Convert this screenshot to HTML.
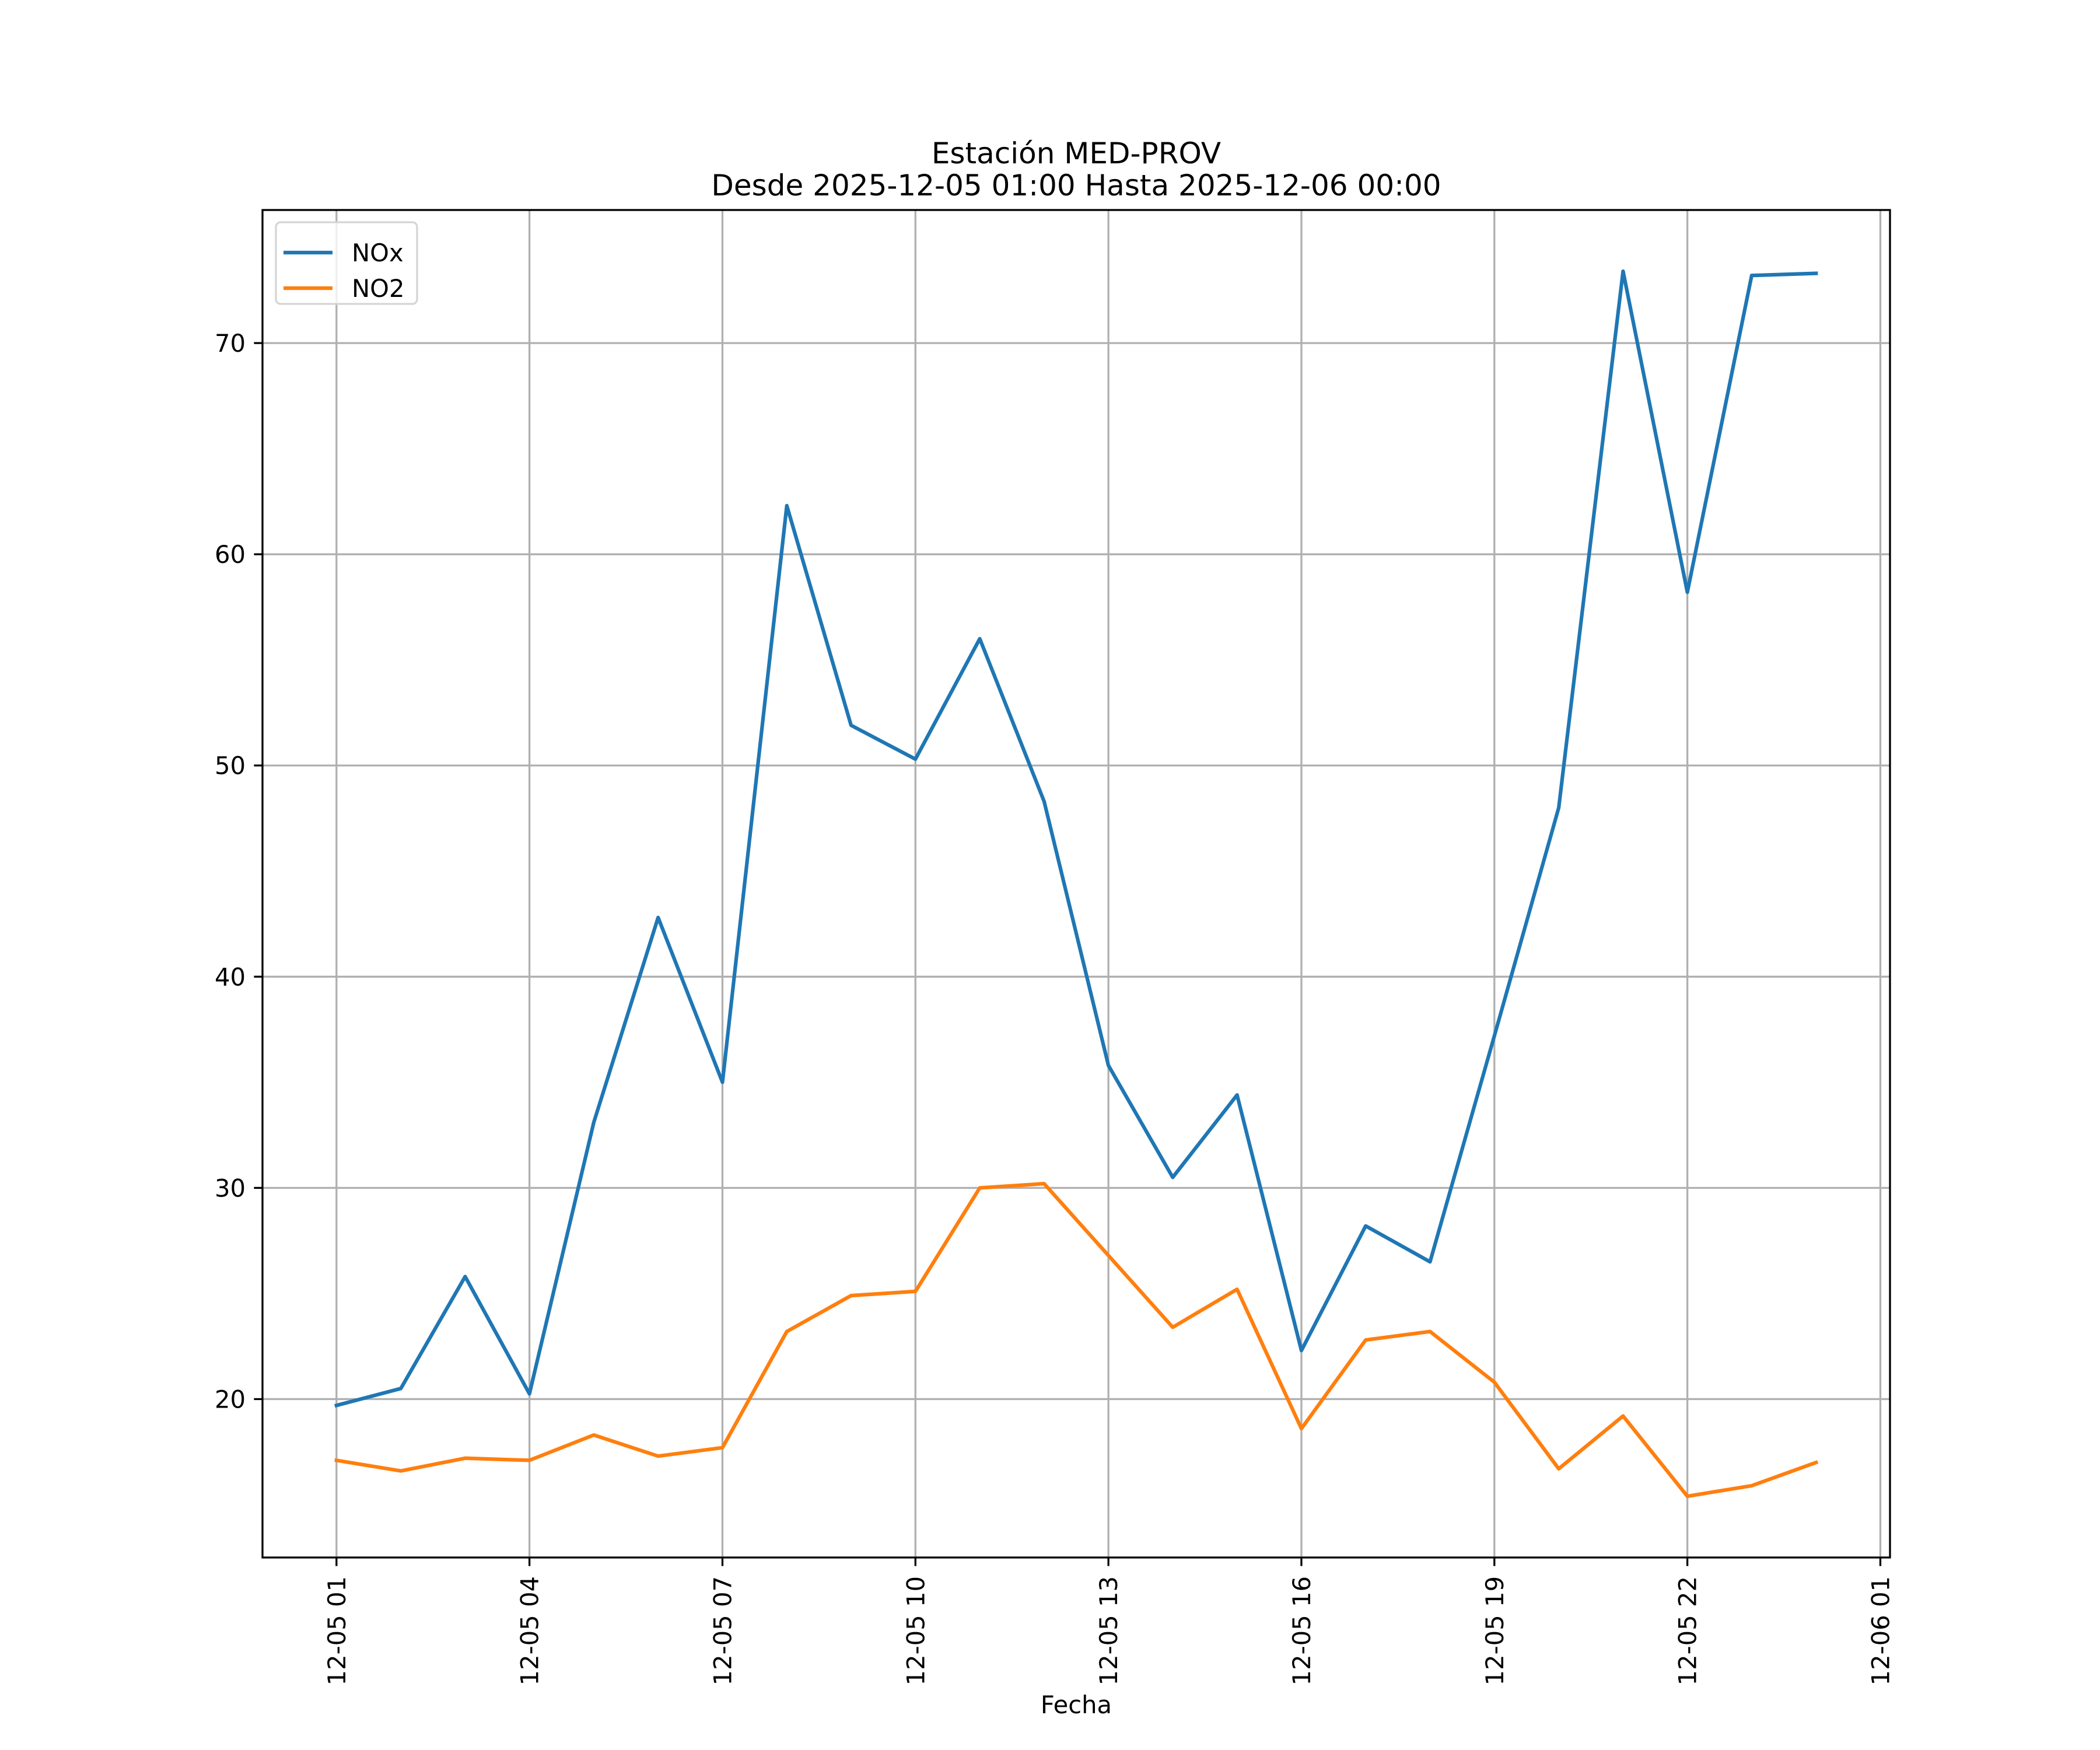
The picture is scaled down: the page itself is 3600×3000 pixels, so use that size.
<!DOCTYPE html>
<html><head><meta charset="utf-8"><style>
html,body{margin:0;padding:0;background:#fff;}
svg{display:block;font-family:"DejaVu Sans","Liberation Sans",sans-serif;}
</style></head><body>
<svg id="chart" width="3600" height="3000" viewBox="0 0 3600 3000" xmlns="http://www.w3.org/2000/svg">
<rect width="3600" height="3000" fill="#fff"/>
<text x="1845" y="280" font-size="50" text-anchor="middle">Estación MED-PROV</text>
<text x="1845" y="335" font-size="50" text-anchor="middle">Desde 2025-12-05 01:00 Hasta 2025-12-06 00:00</text>
<g id="grid"></g>
<g id="series"></g>
<rect x="450" y="360" width="2790" height="2310" fill="none" stroke="#000" stroke-width="3.3"/>
<g id="axes"></g>
<text x="1845" y="2937" font-size="41.7" text-anchor="middle">Fecha</text>
<g>
<rect x="473" y="381" width="242" height="140" rx="8" fill="#fff" fill-opacity="0.8" stroke="#d5d5d5" stroke-width="3.3"/>
<line x1="486" y1="433" x2="570" y2="433" stroke="#1f77b4" stroke-width="6.25"/>
<text x="603" y="448" font-size="41.7">NOx</text>
<line x1="486" y1="494" x2="570" y2="494" stroke="#ff7f0e" stroke-width="6.25"/>
<text x="603" y="509" font-size="41.7">NO2</text>
</g>
</svg>
<script>
const hours = [0,1,2,3,4,5,6,7,8,9,10,11,12,13,14,15,16,17,18,19,20,21,22,23];
const noxValues = [19.7,20.5,25.8,20.25,33.1,42.8,35.0,62.3,51.9,50.3,56.0,48.3,35.8,30.5,34.4,22.3,28.2,26.5,37.2,48.0,73.4,58.2,73.2,73.3];
const no2Values = [17.1,16.6,17.2,17.1,18.3,17.3,17.7,23.2,24.9,25.1,30.0,30.2,26.8,23.4,25.2,18.6,22.8,23.2,20.8,16.7,19.2,15.4,15.9,17.0];
const xTickHours = [0,3,6,9,12,15,18,21,24];
const xTickLabels = ["12-05 01","12-05 04","12-05 07","12-05 10","12-05 13","12-05 16","12-05 19","12-05 22","12-06 01"];
const yTicks = [20,30,40,50,60,70];

const NS = "http://www.w3.org/2000/svg";
const L=450,R=3240,T=360,B=2670;
const all = noxValues.concat(no2Values);
const ymin0 = Math.min(...all), ymax0 = Math.max(...all);
const ypad = (ymax0-ymin0)*0.05;
const ylo = ymin0-ypad, yhi = ymax0+ypad;
const xlo = hours[0]-(hours[hours.length-1]-hours[0])*0.05;
const xhi = hours[hours.length-1]+(hours[hours.length-1]-hours[0])*0.05;
function xs(h){return L+(h-xlo)/(xhi-xlo)*(R-L);}
function ys(v){return B-(v-ylo)/(yhi-ylo)*(B-T);}
function mk(tag,attrs,parent){const e=document.createElementNS(NS,tag);for(const k in attrs)e.setAttribute(k,attrs[k]);parent.appendChild(e);return e;}
const grid=document.getElementById('grid'),axes=document.getElementById('axes'),series=document.getElementById('series');
xTickHours.forEach((h,i)=>{
  const x=xs(h);
  const g=mk('line',{x1:x,y1:T,x2:x,y2:B,stroke:'#b0b0b0','stroke-width':3.3},grid);
  
  
  const t=mk('line',{x1:x,y1:B,x2:x,y2:B+14.6,stroke:'#000','stroke-width':3.3},axes);
  
  
  const lb=mk('text',{x:0,y:0,'font-size':41.7,'text-anchor':'end',transform:`translate(${x+15},${B+32}) rotate(-90)`},axes);
  lb.textContent=xTickLabels[i];
  
  
});
yTicks.forEach(v=>{
  const y=ys(v);
  const g=mk('line',{x1:L,y1:y,x2:R,y2:y,stroke:'#b0b0b0','stroke-width':3.3},grid);
  
  
  const t=mk('line',{x1:L-14.6,y1:y,x2:L,y2:y,stroke:'#000','stroke-width':3.3},axes);
  
  
  const lb=mk('text',{x:L-29,y:y+15,'font-size':41.7,'text-anchor':'end'},axes);
  lb.textContent=v;
  
  
});
function line(vals,color,name){
  const pts=vals.map((v,i)=>xs(hours[i]).toFixed(1)+','+ys(v).toFixed(1)).join(' ');
  const p=mk('polyline',{points:pts,fill:'none',stroke:color,'stroke-width':6.25,'stroke-linejoin':'round','stroke-linecap':'square'},series);
  
  
}
line(noxValues,'#1f77b4','nox-line');
line(no2Values,'#ff7f0e','no2-line');
</script>
</body></html>
